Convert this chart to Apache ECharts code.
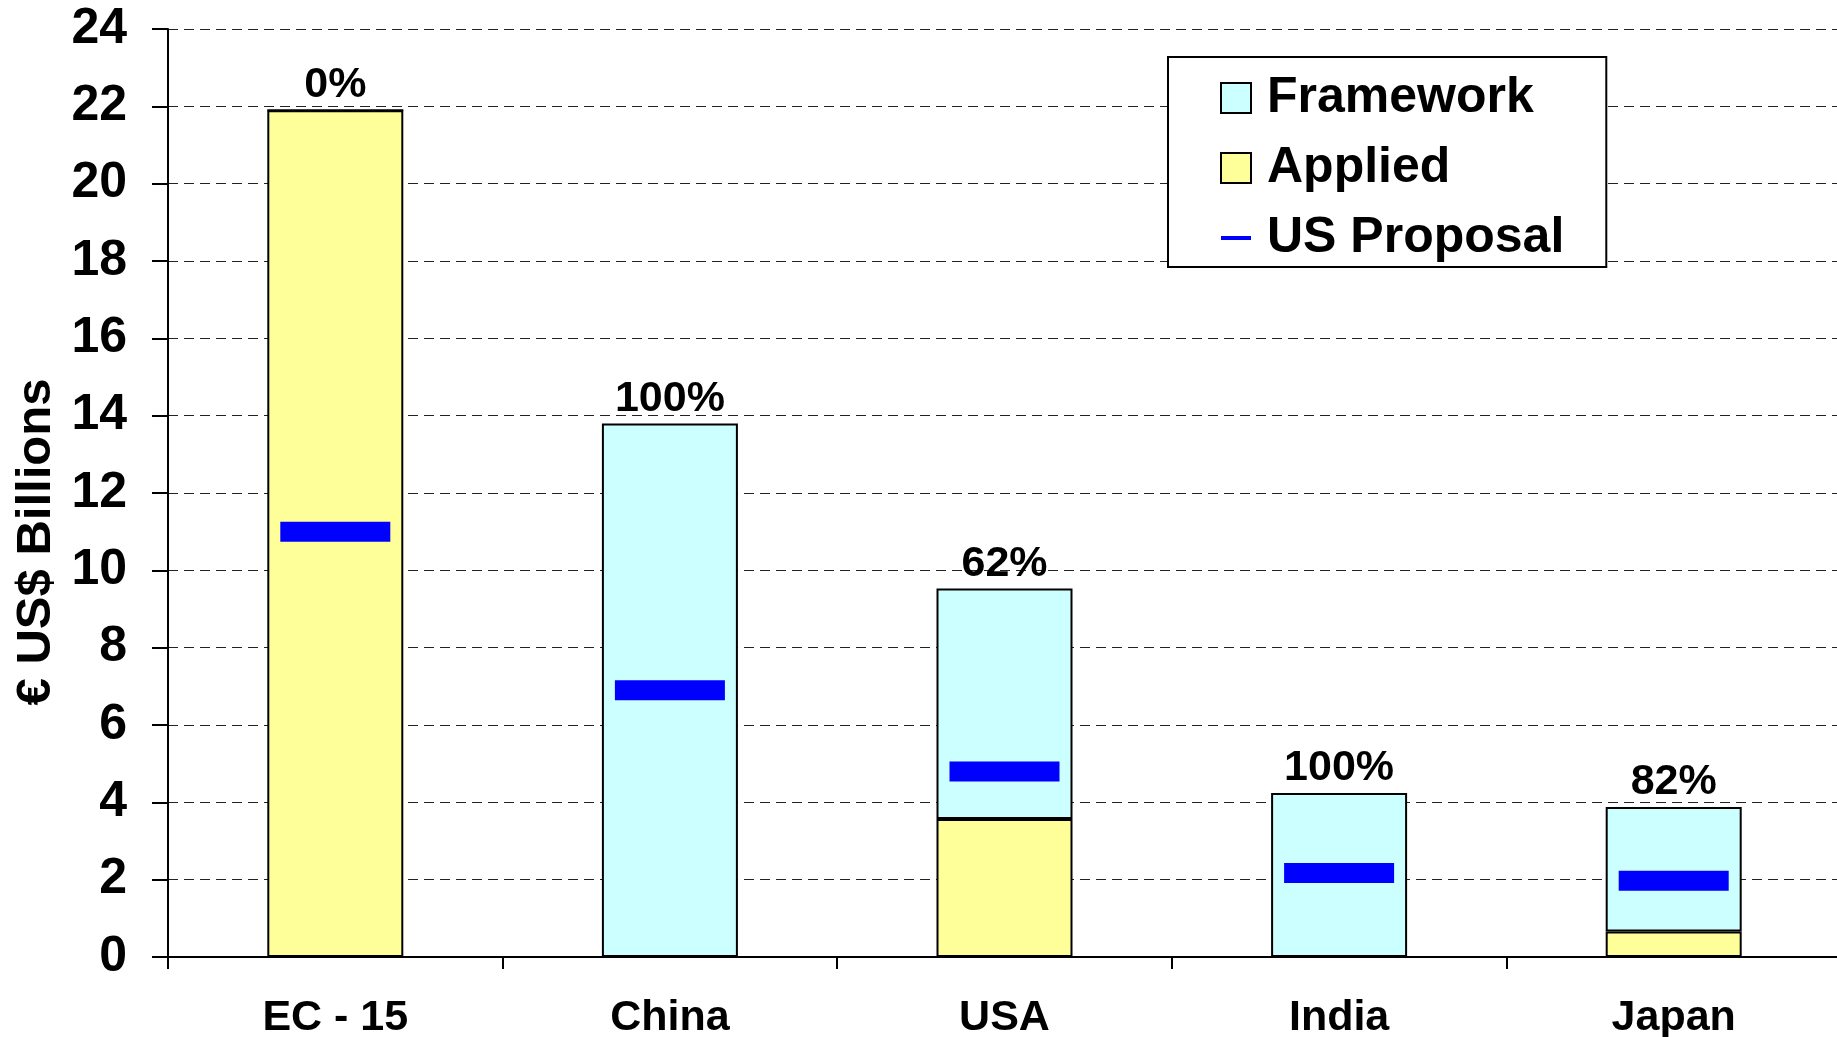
<!DOCTYPE html>
<html>
<head>
<meta charset="utf-8">
<script src="https://cdn.jsdelivr.net/npm/echarts@6/dist/echarts.min.js"></script>
<style>
html,body{margin:0;padding:0;background:#fff;}
#chart{width:1837px;height:1037px;}
</style>
</head>
<body>
<div id="chart"></div>
<script>
var categories = ['EC - 15', 'China', 'USA', 'India', 'Japan'];
var applied = [21.9, 0, 3.57, 0, 0.66];
var framework = [0, 13.8, 5.96, 4.24, 3.22];
var usProposal = [11.0, 6.9, 4.8, 2.17, 1.97];
var pctLabels = ['0%', '100%', '62%', '100%', '82%'];
var yTicks = [0, 2, 4, 6, 8, 10, 12, 14, 16, 18, 20, 22, 24];

var FONT = '"Liberation Sans", Arial, sans-serif';
var chart = echarts.init(document.getElementById('chart'), null, {renderer: 'canvas'});

chart.setOption({
  animation: false,
  backgroundColor: '#fff',
  textStyle: {fontFamily: FONT},
  grid: {left: 168, top: 29, bottom: 80, width: 1673, containLabel: false, outerBoundsMode: 'none'},
  legend: {
    orient: 'vertical',
    left: 1168,
    top: 57,
    padding: [16, 42, 4, 52],
    itemGap: 20,
    itemWidth: 30,
    itemHeight: 30,
    borderColor: '#000',
    borderWidth: 2,
    backgroundColor: '#fff',
    textStyle: {fontSize: 50, fontWeight: 'bold', color: '#000', fontFamily: FONT, lineHeight: 50, padding: [0, 0, 0, 11]},
    data: [
      {name: 'Framework', icon: 'rect'},
      {name: 'Applied', icon: 'rect'},
      {name: 'US Proposal', icon: 'path://M0,0 M0,13 L30,13 L30,17 L0,17 Z M30,30'}
    ]
  },
  graphic: [{
    type: 'text',
    x: 36, y: 542,
    rotation: Math.PI / 2,
    style: {
      text: '€ US$ Billions',
      font: 'bold 49px ' + FONT,
      fill: '#000',
      textAlign: 'center',
      textVerticalAlign: 'middle'
    }
  }],
  xAxis: {
    type: 'category',
    data: categories,
    boundaryGap: true,
    axisLine: {lineStyle: {color: '#000', width: 2}},
    axisTick: {show: true, interval: 0, length: 12, lineStyle: {color: '#000', width: 2}},
    axisLabel: {fontSize: 43, fontWeight: 'bold', color: '#000', margin: 40, fontFamily: FONT, interval: 0}
  },
  yAxis: {
    type: 'value',
    min: yTicks[0],
    max: yTicks[yTicks.length - 1],
    interval: 2,
    axisLine: {show: true, lineStyle: {color: '#000', width: 2}},
    axisTick: {show: true, length: 16, lineStyle: {color: '#000', width: 2}},
    axisLabel: {fontSize: 50, fontWeight: 'bold', color: '#000', margin: 41, fontFamily: FONT},
    splitLine: {show: true, lineStyle: {color: '#222', width: 1, type: [10, 6]}}
  },
  series: [
    {
      name: 'Applied',
      type: 'bar',
      stack: 'total',
      barWidth: 136,
      data: applied,
      itemStyle: {color: '#FFFF99', borderColor: '#000', borderWidth: 2}
    },
    {
      name: 'Framework',
      type: 'bar',
      stack: 'total',
      barWidth: 136,
      data: framework,
      itemStyle: {color: '#CCFFFF', borderColor: '#000', borderWidth: 2},
      label: {
        show: true,
        position: 'top',
        distance: 3,
        fontSize: 43,
        fontWeight: 'bold',
        color: '#000',
        fontFamily: FONT,
        formatter: function (p) { return pctLabels[p.dataIndex]; }
      }
    },
    {
      name: 'US Proposal',
      type: 'scatter',
      data: usProposal,
      symbol: 'rect',
      symbolSize: [110, 20],
      itemStyle: {color: '#0000FF', opacity: 1},
      z: 5
    }
  ]
});
</script>
</body>
</html>
